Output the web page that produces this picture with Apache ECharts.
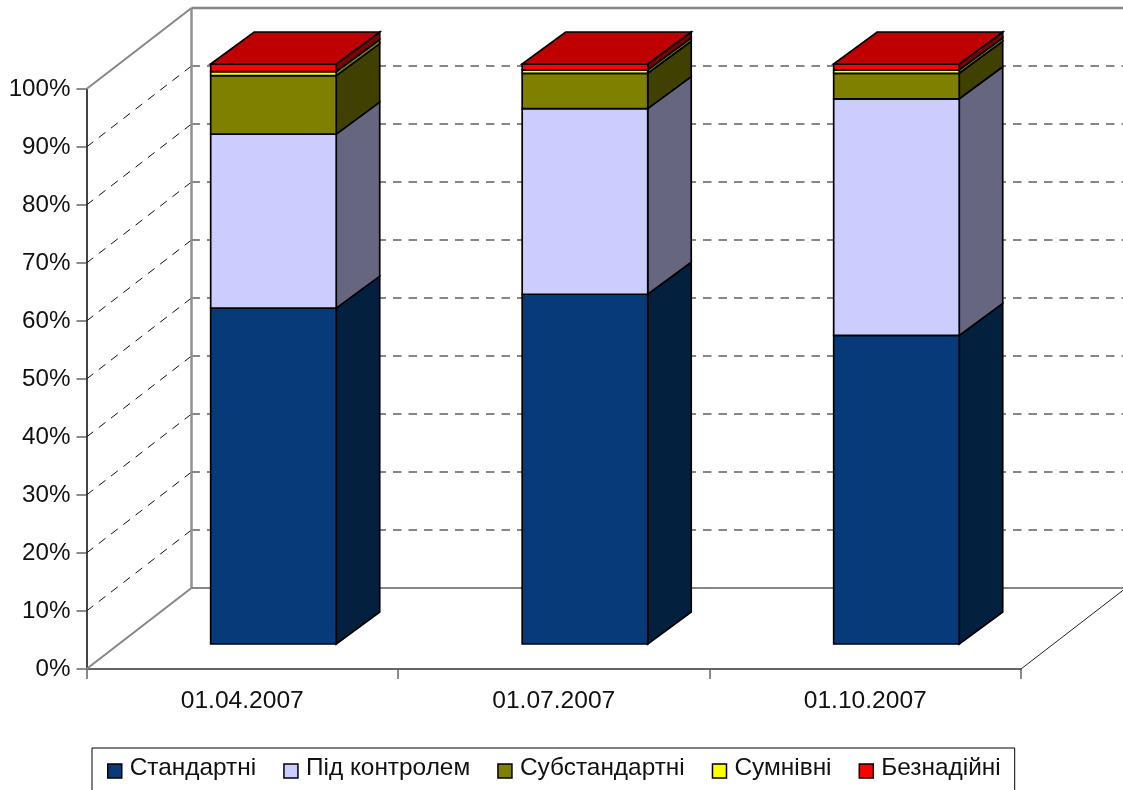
<!DOCTYPE html>
<html><head><meta charset="utf-8">
<style>html,body{margin:0;padding:0;background:#fff}#c{width:1123px;height:790px}</style>
<script src="https://cdn.jsdelivr.net/npm/echarts@6/dist/echarts.min.js"></script>
</head><body><div id="c"></div>
<script>
const categories = ['01.04.2007', '01.07.2007', '01.10.2007'];
const seriesNames = ['Стандартні', 'Під контролем', 'Субстандартні', 'Сумнівні', 'Безнадійні'];
const standard = [57.9, 60.3, 53.2];
const control = [30.0, 32.0, 40.8];
const substandard = [10.1, 6.1, 4.4];
const doubtful = [0.7, 0.6, 0.6];
const hopeless = [1.3, 1.0, 1.0];
const gridValues = [10, 20, 30, 40, 50, 60, 70, 80, 90];
const colors = ['#073A78', '#CCCCFF', '#808000', '#FFFF00', '#FF0000'];
const sideColors = ['#04203F', '#666680', '#404000', '#808000', '#800000'];
const topColor = '#BF0000';

const stacks = [standard, control, substandard, doubtful, hopeless];
const WALL = {dx: 105, dy: -81};
const BAR_OFFSET = {dx: 31.2, dy: -25};
const BAR_DEPTH = {dx: 43.5, dy: -32};
const EDGE = {stroke: '#000', lineWidth: 1.7, lineJoin: 'miter'};

function poly(points, fill) {
  return {type: 'polygon', shape: {points}, style: Object.assign({fill}, EDGE)};
}
function wallLine(x1, y1, x2, y2, stroke, lineWidth, lineDash) {
  return {type: 'line', shape: {x1, y1, x2, y2}, style: {stroke, lineWidth, lineDash: lineDash || null, fill: null}};
}
function renderWalls(params, api) {
  const cs = params.coordSys, left = cs.x, right = cs.x + cs.width;
  const end = 1123;
  const y0 = api.coord([0, 0])[1], y100 = api.coord([0, 100])[1];
  const bx = left + WALL.dx;
  const kids = [];
  gridValues.forEach(v => {
    const y = api.coord([0, v])[1];
    kids.push(wallLine(left, y, bx, y + WALL.dy, '#111', 1, [8.5, 7]));
    kids.push(wallLine(bx, y + WALL.dy, end, y + WALL.dy, '#111', 1.2, [8.5, 7]));
  });
  kids.push(wallLine(left, y0, bx, y0 + WALL.dy, '#868686', 2));
  kids.push(wallLine(left, y100, bx, y100 + WALL.dy, '#868686', 2));
  kids.push(wallLine(bx, y0 + WALL.dy, bx, y100 + WALL.dy, '#909090', 2.5));
  kids.push(wallLine(bx, y100 + WALL.dy, end, y100 + WALL.dy, '#868686', 2.5));
  kids.push(wallLine(bx, y0 + WALL.dy, end, y0 + WALL.dy, '#868686', 2));
  kids.push(wallLine(right, y0, right + WALL.dx, y0 + WALL.dy, '#222', 1));
  return {type: 'group', children: kids};
}
function renderBar(s) {
  return function (params, api) {
    const i = api.value(0), from = api.value(1), to = api.value(2);
    const w = api.size([1, 0])[0] * 0.403;
    const c = api.coord([i, from]), d = api.coord([i, to]);
    const x0 = c[0] - w / 2 + BAR_OFFSET.dx, x1 = x0 + w;
    const yb = c[1] + BAR_OFFSET.dy, yt = d[1] + BAR_OFFSET.dy;
    const ddx = BAR_DEPTH.dx, ddy = BAR_DEPTH.dy;
    const kids = [
      poly([[x1, yb], [x1 + ddx, yb + ddy], [x1 + ddx, yt + ddy], [x1, yt]], sideColors[s]),
      poly([[x0, yb], [x1, yb], [x1, yt], [x0, yt]], colors[s])
    ];
    if (s === stacks.length - 1) {
      kids.push(poly([[x0, yt], [x1, yt], [x1 + ddx, yt + ddy], [x0 + ddx, yt + ddy]], topColor));
    }
    return {type: 'group', children: kids};
  };
}
const running = categories.map(() => 0);
const barSeries = stacks.map((vals, s) => {
  const data = vals.map((v, i) => {
    const row = [i, running[i], running[i] + v];
    running[i] += v;
    return row;
  });
  return {
    name: seriesNames[s], type: 'custom', coordinateSystem: 'cartesian2d',
    renderItem: renderBar(s), data, z: 3 + s, clip: false,
    encode: {x: 0, y: [1, 2]},
    itemStyle: {color: colors[s]}
  };
});
const font = '"Liberation Sans", Arial, sans-serif';
const chart = echarts.init(document.getElementById('c'), null, {renderer: 'canvas'});
chart.setOption({
  animation: false,
  backgroundColor: '#fff',
  grid: {left: 86.5, right: 102, top: 89, bottom: 121, containLabel: false},
  xAxis: {
    type: 'category', data: categories, boundaryGap: true,
    axisLine: {lineStyle: {color: '#333', width: 1.5}},
    axisTick: {show: true, length: 10, alignWithLabel: false, lineStyle: {color: '#666', width: 1.5}},
    axisLabel: {color: '#111', fontFamily: font, fontSize: 24.6, margin: 20, interval: 0},
    splitLine: {show: false}
  },
  yAxis: {
    type: 'value', min: 0, max: 100, interval: 10,
    axisLine: {show: true, lineStyle: {color: '#444', width: 2}},
    axisTick: {show: true, length: 10, lineStyle: {color: '#666', width: 1.5}},
    axisLabel: {color: '#111', fontFamily: font, fontSize: 24.2, margin: 16, padding: [3, 0, 0, 0], formatter: '{value}%'},
    splitLine: {show: false}
  },
  legend: {
    data: seriesNames, left: 92, top: 748, orient: 'horizontal',
    padding: [8, 14, 17, 15],
    itemWidth: 14, itemHeight: 14, itemGap: 27, icon: 'rect',
    borderColor: '#000', borderWidth: 1, backgroundColor: '#fff',
    selectedMode: false,
    itemStyle: {borderColor: '#000', borderWidth: 1.5},
    formatter: '{t|{name}}',
    textStyle: {
      color: '#111', fontFamily: font, fontSize: 24.4,
      rich: {t: {color: '#111', fontFamily: font, fontSize: 24.4, padding: [0, 0, 6, 3]}}
    }
  },
  series: [{
    name: 'walls', type: 'custom', coordinateSystem: 'cartesian2d',
    renderItem: renderWalls, data: [[0, 0]], z: 1, clip: false, silent: true
  }].concat(barSeries)
});
</script></body></html>
